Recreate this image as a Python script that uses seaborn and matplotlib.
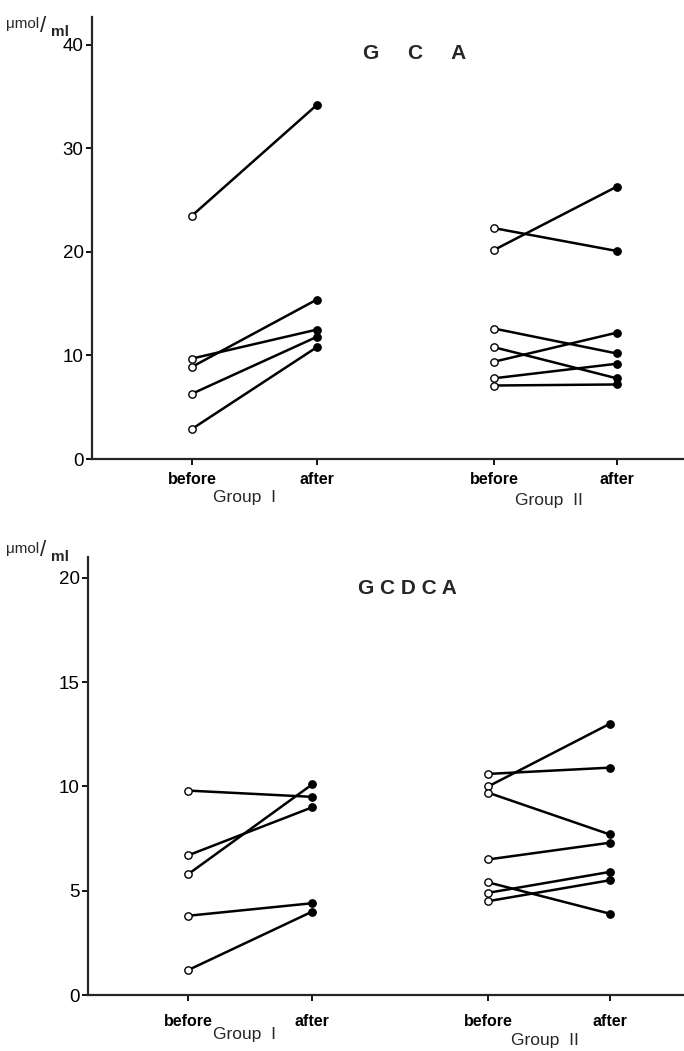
import matplotlib
matplotlib.use("Agg")
import matplotlib.pyplot as plt
import seaborn as sns
import pandas as pd

# ---- data ----
phases = ["before", "after"]
groups = ["Group  I", "Group  II"]

gca_g1_before = [23.5, 8.9, 9.7, 6.3, 2.9]
gca_g1_after = [34.2, 15.4, 12.5, 11.8, 10.8]
gca_g2_before = [22.3, 20.2, 12.6, 10.8, 9.4, 7.8, 7.1]
gca_g2_after = [20.1, 26.3, 10.2, 7.8, 12.2, 9.2, 7.2]

gcdca_g1_before = [9.8, 6.7, 5.8, 3.8, 1.2]
gcdca_g1_after = [9.5, 9.0, 10.1, 4.4, 4.0]
gcdca_g2_before = [10.6, 10.0, 9.7, 6.5, 5.4, 4.9, 4.5]
gcdca_g2_after = [10.9, 13.0, 7.7, 7.3, 3.9, 5.9, 5.5]

sns.set_theme(style="ticks")
plt.rcParams["font.family"] = ["Liberation Sans", "DejaVu Sans"]

fig = plt.figure(figsize=(6.84, 10.51), dpi=100)

# x positions of the four columns (layout)
xpos = {("Group  I", "before"): 0.0, ("Group  I", "after"): 1.0,
        ("Group  II", "before"): 2.42, ("Group  II", "after"): 3.4}


def build(g1b, g1a, g2b, g2a):
    rows = []
    sid = 0
    for grp, bl, al in [("Group  I", g1b, g1a), ("Group  II", g2b, g2a)]:
        for b, a in zip(bl, al):
            rows.append(dict(id=sid, group=grp, phase="before", x=xpos[(grp, "before")], v=b))
            rows.append(dict(id=sid, group=grp, phase="after", x=xpos[(grp, "after")], v=a))
            sid += 1
    return pd.DataFrame(rows)


def draw(ax, df, xlim, ylim, yticks, title, title_xy, glabels, xpad):
    sns.lineplot(data=df, x="x", y="v", units="id", estimator=None, color="black",
                 linewidth=1.8, ax=ax, legend=False)
    bef = df[df.phase == "before"]
    aft = df[df.phase == "after"]
    ax.scatter(bef.x, bef.v, s=28, facecolor="white", edgecolor="black", linewidth=1.0, zorder=3)
    ax.scatter(aft.x, aft.v, s=28, facecolor="black", edgecolor="black", linewidth=1.0, zorder=3)
    ax.set_xlim(*xlim)
    ax.set_ylim(*ylim)
    ax.set_yticks(yticks)
    ax.set_yticklabels([str(t) for t in yticks], fontsize=13.5)
    ticks = [xpos[(g, p)] for g in groups for p in phases]
    ax.set_xticks(ticks)
    ax.set_xticklabels(phases * 2, fontsize=11.5, fontweight="bold")
    ax.set_xlabel("")
    ax.set_ylabel("")
    for s in ["top", "right"]:
        ax.spines[s].set_visible(False)
    ax.spines["left"].set_linewidth(1.6)
    ax.spines["bottom"].set_linewidth(1.6)
    ax.tick_params(axis="both", direction="out", length=4, width=1.3, colors="black", pad=2)
    ax.tick_params(axis="x", pad=xpad)
    ax.text(title_xy[0], title_xy[1], title, fontsize=15, fontweight="bold",
            ha="center", va="center", transform=ax.transData)
    for g, (gx, gy) in zip(groups, glabels):
        ax.text(gx, gy, g, fontsize=12.5, ha="center", va="center",
                transform=ax.get_xaxis_transform())


ax1 = fig.add_axes([92 / 684, 1 - 459 / 1051, 1 - 92 / 684, (459 - 17) / 1051])
df1 = build(gca_g1_before, gca_g1_after, gca_g2_before, gca_g2_after)
draw(ax1, df1, (-0.8, 3.94), (0, 42.7), [0, 10, 20, 30, 40], "G     C     A", (1.78, 39.2),
     [(0.42, -0.088), (2.86, -0.093)], 5.5)

ax2 = fig.add_axes([88 / 684, 1 - 995 / 1051, 1 - 88 / 684, (995 - 557) / 1051])
df2 = build(gcdca_g1_before, gcdca_g1_after, gcdca_g2_before, gcdca_g2_after)
draw(ax2, df2, (-0.81, 4.0), (0, 21.0), [0, 5, 10, 15, 20], "G C D C A", (1.77, 19.5),
     [(0.45, -0.091), (2.88, -0.103)], 9.5)

# unit labels
for ytop in [24, 549]:
    fig.text(6 / 684, 1 - ytop / 1051, "μmol", fontsize=11, ha="left", va="center")
    fig.text(40 / 684, 1 - (ytop + 2) / 1051, "/", fontsize=16, ha="left", va="center")
    fig.text(51 / 684, 1 - (ytop + 8) / 1051, "ml", fontsize=11, fontweight="bold",
             ha="left", va="center")

fig.savefig("out.png", dpi=100)
